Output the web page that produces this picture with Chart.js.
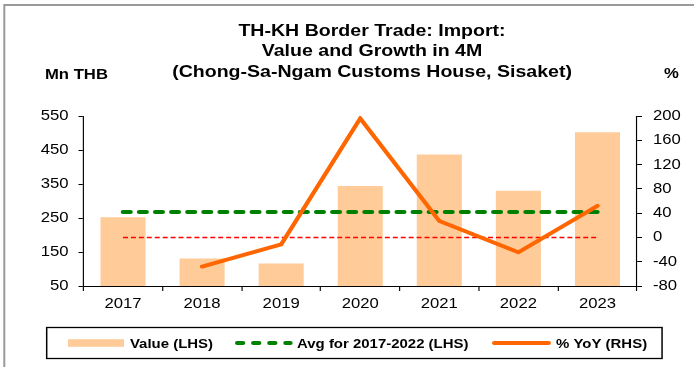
<!DOCTYPE html>
<html>
<head>
<meta charset="utf-8">
<script src="https://cdn.jsdelivr.net/npm/chart.js@4.4.0/dist/chart.umd.min.js"></script>
<style>
  html, body { margin: 0; padding: 0; background: #fff; }
  canvas { display: block; }
</style>
</head>
<body>
<canvas id="chart" width="694" height="367"></canvas>
<script>
// categories and series
var years = ['2017', '2018', '2019', '2020', '2021', '2022', '2023'];
var importValue = [252, 131, 116, 344, 437, 330, 502];          // Mn THB
var yoyGrowth = [null, -48, -11.5, 196, 27, -24.5, 52];        // %
var avgValue = [268, 268, 268, 268, 268, 268, 268];             // avg 2017-2022, Mn THB
var zeroLine = [0, 0, 0, 0, 0, 0, 0];                           // 0% reference

// tick labels of both axes
var leftTicks = [50, 150, 250, 350, 450, 550];
var rightTicks = [-80, -40, 0, 40, 80, 120, 160, 200];

var titleLines = ['TH-KH Border Trade: Import:', 'Value and Growth in 4M', '(Chong-Sa-Ngam Customs House, Sisaket)'];
var legendLabels = ['Value (LHS)', 'Avg for 2017-2022 (LHS)', '% YoY (RHS)'];

var FONT = "'Liberation Sans', Arial, sans-serif";
var SX = 1.15; // whole drawing is widened horizontally by this factor

//stretch everything sideways, then add titles, legend and frame
var framePlugin = {
	id: 'frame',
	beforeDraw: function( chart ){
		chart.ctx.save();
		chart.ctx.scale( SX, 1 );
	},
	afterDraw: function( chart ){
		var ctx = chart.ctx;
		ctx.fillStyle = '#000';
		ctx.textBaseline = 'alphabetic';

		//title
		ctx.textAlign = 'center';
		ctx.font = 'bold 17px ' + FONT;
		var base = [35.5, 56, 77];
		for( var i = 0; i < titleLines.length; i++ )
			ctx.fillText( titleLines[i], 323.5, base[i] );

		//axis units
		ctx.textAlign = 'left';
		ctx.font = 'bold 14.5px ' + FONT;
		ctx.fillText( 'Mn THB', 39.1, 79 );
		ctx.fillText( '%', 577.4, 78 );

		//legend box
		ctx.strokeStyle = '#000';
		ctx.lineWidth = 1.3;
		ctx.strokeRect( 40.6, 327.5, 535.1, 31 );

		var ly = 343;
		ctx.fillStyle = '#FFCC99';
		ctx.fillRect( 59.1, ly - 3.8, 48.7, 7.6 );

		ctx.lineWidth = 4;
		ctx.lineCap = 'round';
		ctx.strokeStyle = '#008000';
		ctx.setLineDash( [5, 9] );
		ctx.beginPath();
		ctx.moveTo( 206.3, ly );
		ctx.lineTo( 252.5, ly );
		ctx.stroke();
		ctx.setLineDash( [] );

		ctx.strokeStyle = '#FF6600';
		ctx.beginPath();
		ctx.moveTo( 429.8, ly );
		ctx.lineTo( 477.1, ly );
		ctx.stroke();

		ctx.fillStyle = '#000';
		ctx.font = 'bold 13px ' + FONT;
		ctx.fillText( legendLabels[0], 113, ly + 4.7 );
		ctx.fillText( legendLabels[1], 258.3, ly + 4.7 );
		ctx.fillText( legendLabels[2], 483.5, ly + 4.7 );

		ctx.restore();

		//outer frame (top and left edges)
		ctx.save();
		ctx.strokeStyle = '#9a9a9a';
		ctx.lineWidth = 2;
		ctx.beginPath();
		ctx.moveTo( 4.3, 367 );
		ctx.lineTo( 4.3, 5 );
		ctx.lineTo( 694, 5 );
		ctx.stroke();
		ctx.restore();
	}
};

var chart = new Chart( document.getElementById('chart').getContext('2d'), {
	type: 'bar',
	data: {
		labels: years,
		datasets: [{
			type: 'line',
			label: legendLabels[2],
			data: yoyGrowth,
			yAxisID: 'y1',
			borderColor: '#FF6600',
			borderWidth: 3.8,
			borderCapStyle: 'round',
			pointRadius: 0,
			tension: 0
		},{
			type: 'line',
			label: legendLabels[1],
			data: avgValue,
			yAxisID: 'y',
			borderColor: '#008000',
			borderWidth: 4,
			borderDash: [6.5, 7.5],
			borderCapStyle: 'round',
			pointRadius: 0
		},{
			type: 'line',
			label: '0%',
			data: zeroLine,
			yAxisID: 'y1',
			borderColor: '#FF0000',
			borderWidth: 1.5,
			borderDash: [4.3, 2.6],
			pointRadius: 0
		},{
			type: 'bar',
			label: legendLabels[0],
			data: importValue,
			yAxisID: 'y',
			backgroundColor: '#FFCC99',
			categoryPercentage: 1,
			barPercentage: 0.57
		}]
	},
	options: {
		responsive: false,
		animation: false,
		devicePixelRatio: 1,
		layout: { padding: { left: 0, right: 90.1, top: 116, bottom: 51 } },
		plugins: {
			legend: { display: false },
			title: { display: false },
			tooltip: { enabled: false }
		},
		scales: {
			x: {
				grid: { drawOnChartArea: false, color: '#000', tickLength: 5 },
				border: { color: '#000', width: 1 },
				ticks: { color: '#000', font: { family: FONT, size: 14.5 }, padding: 4, maxRotation: 0 },
				afterFit: function( s ){ s.height = 30; }
			},
			y: {
				position: 'left',
				min: leftTicks[0],
				max: leftTicks[leftTicks.length - 1],
				grid: { drawOnChartArea: false, color: '#000', tickLength: 4.35 },
				border: { color: '#000', width: 1 },
				ticks: { stepSize: leftTicks[1] - leftTicks[0], color: '#000', font: { family: FONT, size: 14.5 }, padding: 8.7 },
				afterFit: function( s ){ s.width = 72.6; }
			},
			y1: {
				position: 'right',
				min: rightTicks[0],
				max: rightTicks[rightTicks.length - 1],
				grid: { drawOnChartArea: false, color: '#000', tickLength: 4.35 },
				border: { color: '#000', width: 1 },
				ticks: { stepSize: rightTicks[1] - rightTicks[0], color: '#000', font: { family: FONT, size: 14.5 }, padding: 9.5 },
				afterFit: function( s ){ s.width = 50; }
			}
		}
	},
	plugins: [ framePlugin ]
});
</script>
</body>
</html>
